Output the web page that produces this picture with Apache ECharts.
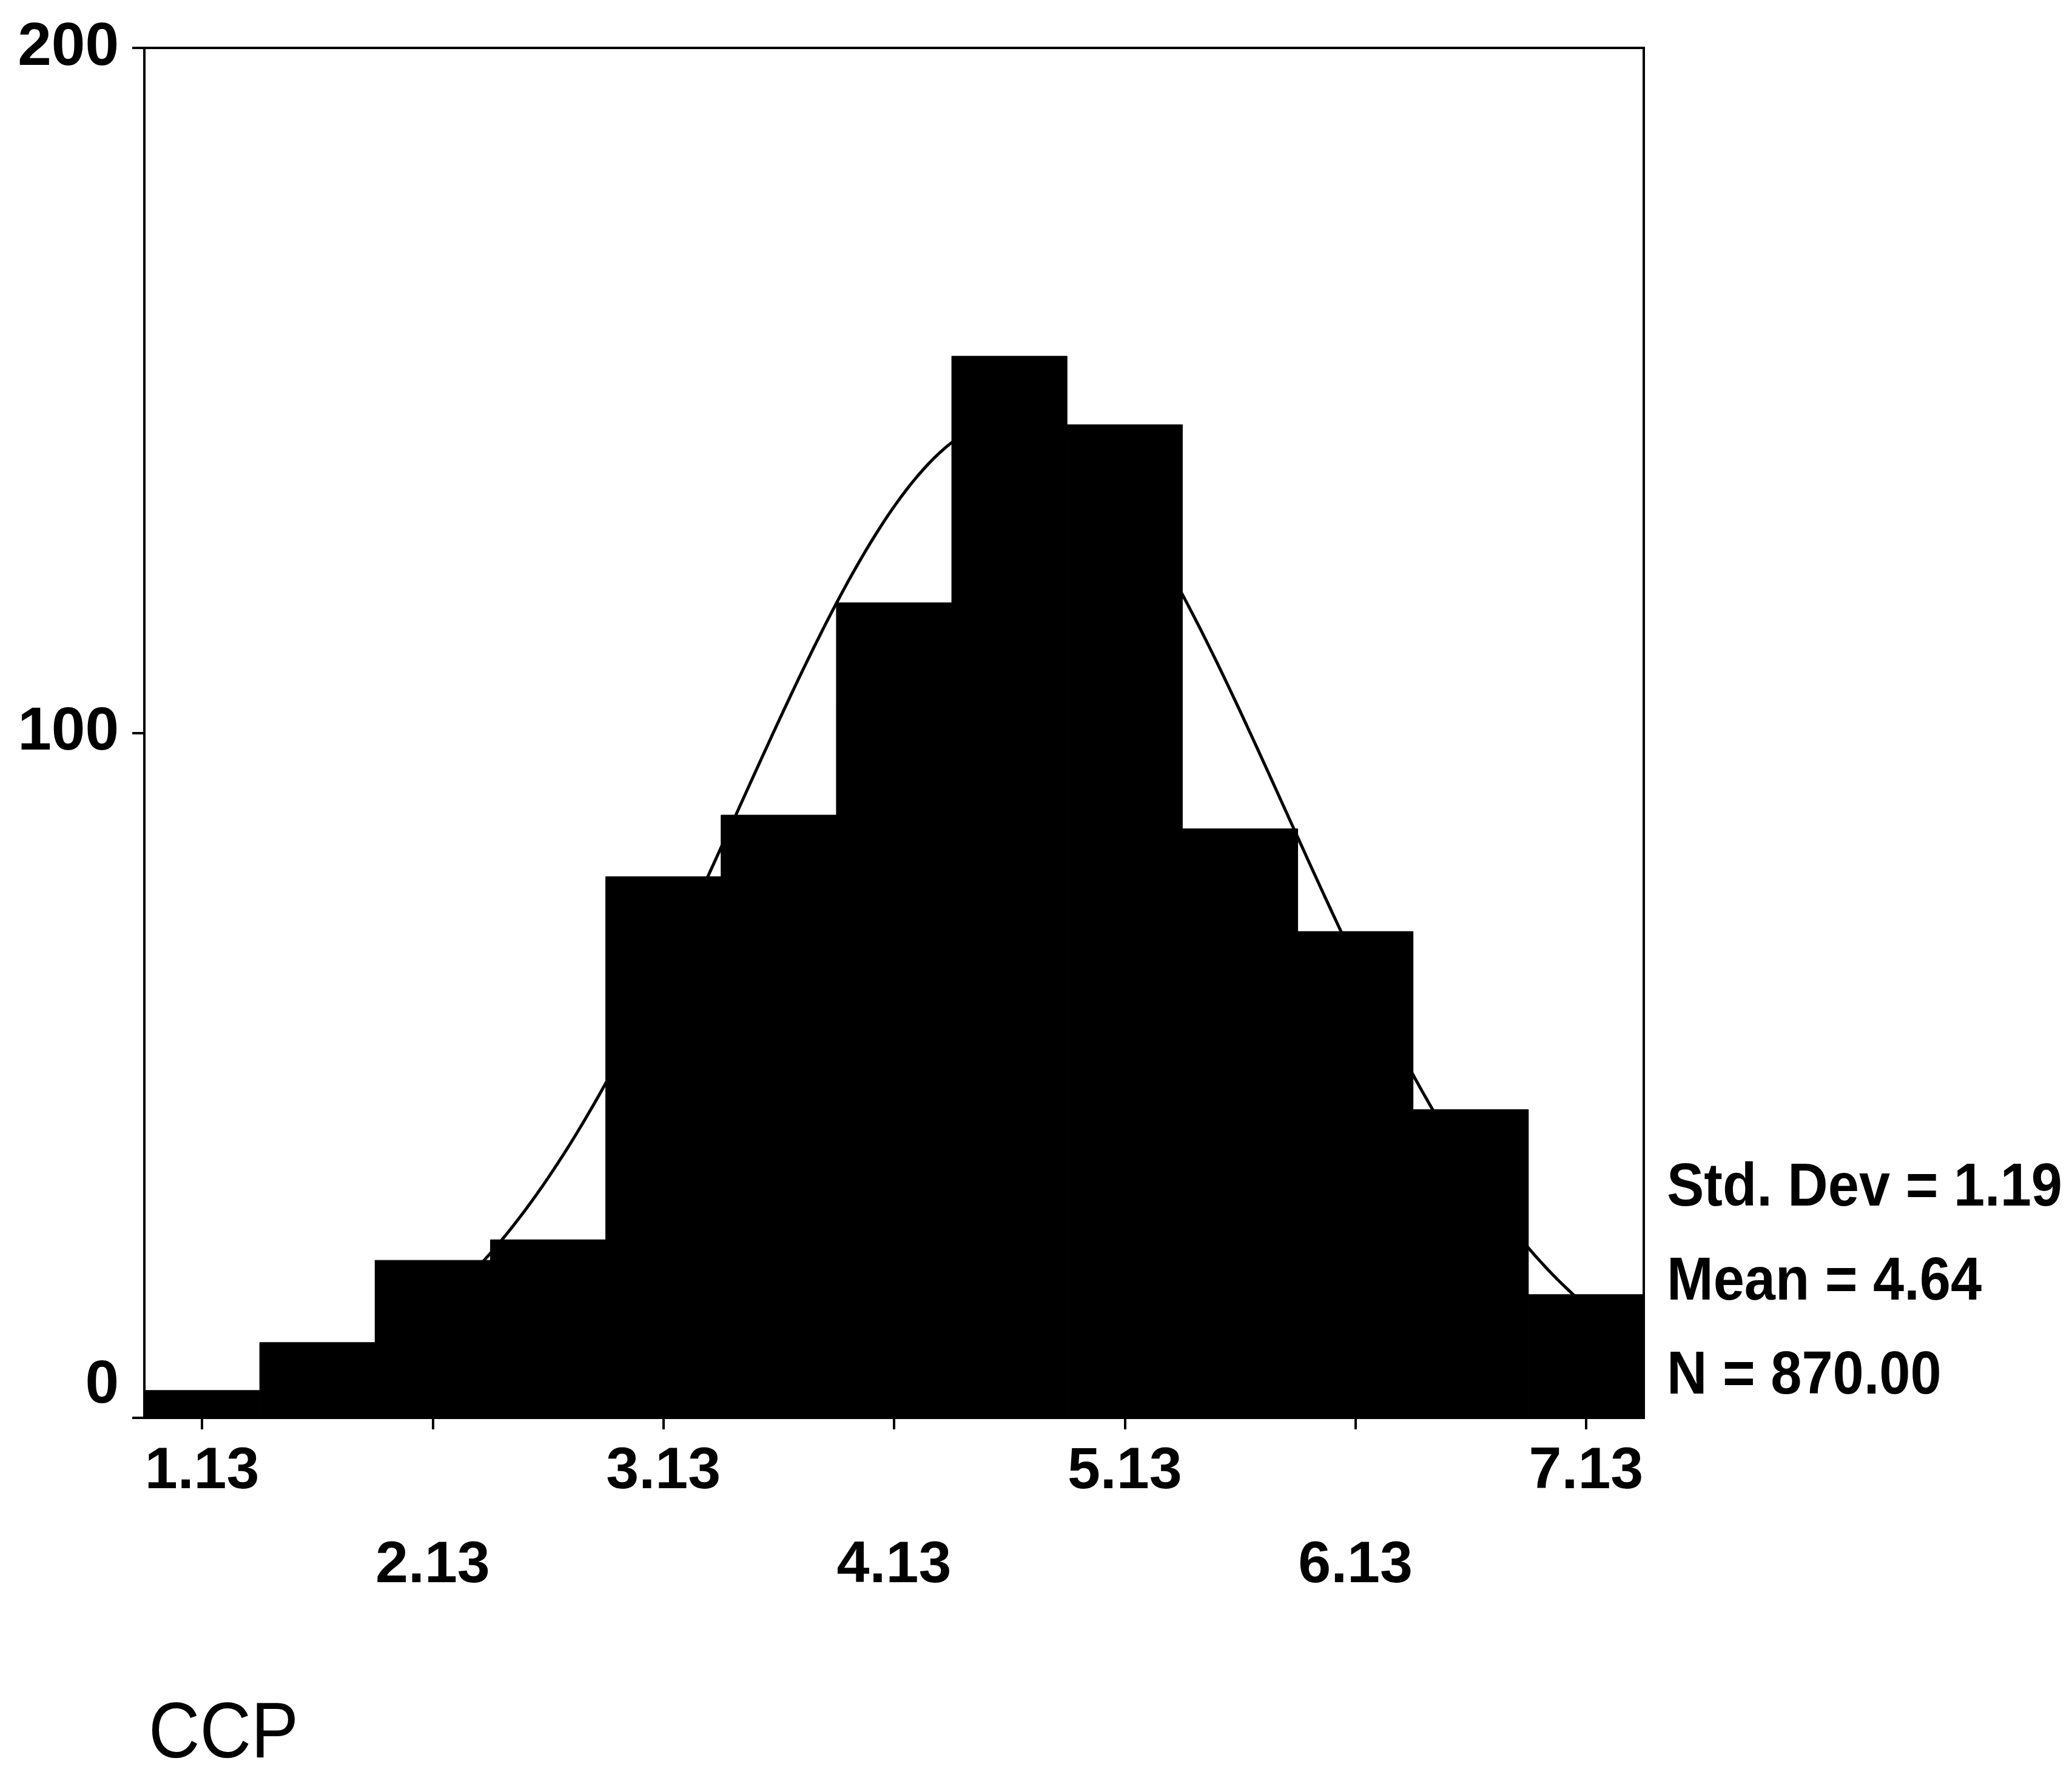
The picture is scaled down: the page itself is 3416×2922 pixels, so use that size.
<!DOCTYPE html>
<html>
<head>
<meta charset="utf-8">
<style>
  html, body { margin: 0; padding: 0; background: #fff; }
  #chart { width: 3416px; height: 2922px; }
</style>
<script src="https://cdn.jsdelivr.net/npm/echarts@6/dist/echarts.min.js"></script>
</head>
<body>
<div id="chart"></div>
<script>
// Histogram bins (centres) and their counts
const binCenters = [1.13, 1.63, 2.13, 2.63, 3.13, 3.63, 4.13, 4.63, 5.13, 5.63, 6.13, 6.63, 7.13];
const counts = [4, 11, 23, 26, 79, 88, 119, 155, 145, 86, 71, 45, 18];
const binWidth = 0.5;

// Axis ticks
const xTickValues = [1.13, 2.13, 3.13, 4.13, 5.13, 6.13, 7.13];
const yTickValues = [0, 100, 200];

// Summary statistics shown beside the plot
const statMean = 4.64;
const statSd = 1.19;
const statN = 870;
const statLabels = ['Std. Dev = 1.19', 'Mean = 4.64', 'N = 870.00'];
const variableName = 'CCP';

const FONT = 'Arial, "Liberation Sans", Helvetica, sans-serif';

const xMin = binCenters[0] - binWidth / 2;
const xMax = binCenters[binCenters.length - 1] + binWidth / 2;

// Fitted normal curve, scaled to counts per bin
const curve = [];
const steps = 260;
for (let i = 0; i <= steps; i++) {
  const x = xMin + (xMax - xMin) * i / steps;
  const z = (x - statMean) / statSd;
  const y = statN * binWidth / (statSd * Math.sqrt(2 * Math.PI)) * Math.exp(-0.5 * z * z);
  curve.push([x, y]);
}

const bars = binCenters.map((c, i) => [c - binWidth / 2, c + binWidth / 2, counts[i]]);

const chart = echarts.init(document.getElementById('chart'), null, { renderer: 'canvas' });

const gridLeft = 238, gridTop = 79, gridRight = 3416 - 2710, gridBottom = 2922 - 2338;

function statText(label, cy) {
  return {
    type: 'text', x: 2748, y: cy, scaleX: 0.92,
    style: {
      text: label, fontFamily: FONT, fontWeight: 'bold', fontSize: 100,
      fill: '#000', align: 'left', verticalAlign: 'middle'
    }
  };
}

chart.setOption({
  animation: false,
  backgroundColor: '#fff',
  grid: {
    left: gridLeft, top: gridTop, right: gridRight, bottom: gridBottom,
    show: true, borderColor: '#000', borderWidth: 4, backgroundColor: 'transparent'
  },
  xAxis: {
    type: 'value',
    min: xMin,
    max: xMax,
    splitLine: { show: false },
    axisLine: { show: true, onZero: false, lineStyle: { color: '#000', width: 4 } },
    axisTick: { show: true, customValues: xTickValues, length: 19, lineStyle: { color: '#000', width: 4 } },
    axisLabel: {
      customValues: xTickValues,
      margin: 12,
      color: '#000',
      fontFamily: FONT,
      fontWeight: 'bold',
      fontSize: 97,
      lineHeight: 155,
      formatter: function (v) {
        const k = Math.round(v - 0.13);
        const t = v.toFixed(2);
        return (k % 2 === 1) ? t : '\n' + t;
      }
    }
  },
  yAxis: {
    type: 'value',
    min: 0,
    max: 200,
    interval: 100,
    splitLine: { show: false },
    axisLine: { show: true, lineStyle: { color: '#000', width: 4 } },
    axisTick: { show: true, length: 20, lineStyle: { color: '#000', width: 4 } },
    axisLabel: {
      margin: 42,
      color: '#000',
      fontFamily: FONT,
      fontWeight: 'bold',
      fontSize: 100,
      formatter: function (v) {
        return v === yTickValues[0] ? '{z|' + v + '}' : String(v);
      },
      rich: {
        z: {
          fontFamily: FONT, fontWeight: 'bold', fontSize: 100, color: '#000',
          padding: [0, 0, 106, 0]
        }
      }
    }
  },
  series: [
    {
      type: 'line',
      name: 'Normal',
      data: curve,
      showSymbol: false,
      smooth: false,
      z: 1,
      lineStyle: { color: '#000', width: 5 },
      clip: true
    },
    {
      type: 'custom',
      name: variableName,
      z: 2,
      data: bars,
      encode: { x: [0, 1], y: 2 },
      renderItem: function (params, api) {
        const p0 = api.coord([api.value(0), api.value(2)]);
        const p1 = api.coord([api.value(1), 0]);
        return {
          type: 'rect',
          shape: { x: p0[0], y: p0[1], width: p1[0] - p0[0], height: p1[1] - p0[1] },
          style: { fill: '#000', stroke: '#000', lineWidth: 1 }
        };
      }
    }
  ],
  graphic: [
    statText(statLabels[0], 1960),
    statText(statLabels[1], 2115),
    statText(statLabels[2], 2270),
    {
      type: 'text', x: 245, y: 2862, scaleX: 0.9,
      style: {
        text: variableName, fontFamily: FONT, fontWeight: 'normal', fontSize: 130,
        fill: '#000', align: 'left', verticalAlign: 'middle'
      }
    }
  ]
});
</script>
</body>
</html>
